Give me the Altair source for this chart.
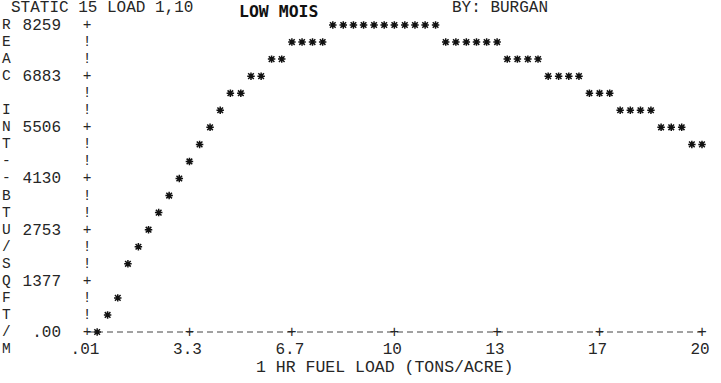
import altair as alt
import pandas as pd

# ---- data ----
loads = [0.34, 0.68, 1.01, 1.34, 1.68, 2.01, 2.34, 2.68, 3.01, 3.34,
         3.67, 4.01, 4.34, 4.67, 5.01, 5.34, 5.67, 6.01, 6.34, 6.67,
         7.00, 7.34, 7.67, 8.00, 8.34, 8.67, 9.00, 9.34, 9.67, 10.00,
         10.34, 10.67, 11.00, 11.34, 11.67, 12.00, 12.34, 12.67, 13.00, 13.34,
         13.67, 14.00, 14.34, 14.67, 15.00, 15.34, 15.67, 16.00, 16.34, 16.67,
         17.00, 17.34, 17.67, 18.00, 18.34, 18.67, 19.00, 19.34, 19.67, 20.00]
reaction = [0, 459, 918, 1835, 2294, 2753, 3212, 3671, 4130, 4588,
            5047, 5506, 5965, 6424, 6424, 6883, 6883, 7341, 7341, 7800,
            7800, 7800, 7800, 8259, 8259, 8259, 8259, 8259, 8259, 8259,
            8259, 8259, 8259, 8259, 7800, 7800, 7800, 7800, 7800, 7800,
            7341, 7341, 7341, 7341, 6883, 6883, 6883, 6883, 6424, 6424,
            6424, 5965, 5965, 5965, 5965, 5506, 5506, 5506, 5047, 5047]

ytick_vals = [8259, 6883, 5506, 4130, 2753, 1377, 0]
ytick_labels = ["8259", "6883", "5506", "4130", "2753", "1377", ".00"]
row_vals = [8259, 7800, 7341, 6883, 6424, 5965, 5506, 5047, 4588, 4130,
            3671, 3212, 2753, 2294, 1835, 1377, 918, 459, 0]
row_marks = ["+", "!", "!", "+", "!", "!", "+", "!", "!", "+",
             "!", "!", "+", "!", "!", "+", "!", "!", "+"]
side_letters = list("REAC INT--BTU/SQFT/M")
side_vals = row_vals + [-459]
xtick_vals = [0.01, 3.34, 6.67, 10.0, 13.34, 16.67, 20.0]
xtick_labels = [".01", "3.3", "6.7", "10", "13", "17", "20"]

MONO = "Liberation Mono"
INK = "#262626"
FS = 16
FS_COL = 14.5

xs = alt.Scale(domain=[0.01, 20], range=[87, 702], nice=False, zero=False)
ys = alt.Scale(domain=[0, 8259], range=[332, 25], nice=False, zero=False)

pts = pd.DataFrame({"load": loads, "ri": reaction})
rows = pd.DataFrame({"v": row_vals, "ch": row_marks, "x0": [xtick_vals[0]] * len(row_vals)})
ylab = pd.DataFrame({"v": ytick_vals, "lab": ytick_labels})
side = pd.DataFrame({"v": side_vals, "ch": side_letters})
xt = pd.DataFrame({"v": xtick_vals, "lab": xtick_labels, "z": [0] * len(xtick_vals)})
xline = pd.DataFrame({"a": [xtick_vals[0]], "b": [xtick_vals[-1]], "z": [0]})

axis_line = alt.Chart(xline).mark_rule(color="#444", strokeWidth=1, strokeDash=[6, 4]).encode(
    x=alt.X("a:Q", scale=xs, axis=None), x2="b:Q",
    y=alt.Y("z:Q", scale=ys, axis=None))

# "+" tick marks along the x axis (the origin "+" is drawn by the y-axis column)
xplus = alt.Chart(xt).transform_filter(alt.datum.v > xtick_vals[0]).mark_text(
    font=MONO, fontSize=FS, color=INK, baseline="middle", text="+").encode(
    x=alt.X("v:Q", scale=xs, axis=None), y=alt.Y("z:Q", scale=ys, axis=None))

xlabels = alt.Chart(xt).mark_text(font=MONO, fontSize=16, color=INK, baseline="middle", dx=-2).encode(
    x=alt.X("v:Q", scale=xs, axis=None), y=alt.value(349), text="lab:N")

ymarks = alt.Chart(rows).mark_text(font=MONO, fontSize=FS_COL, color=INK, baseline="middle").encode(
    x=alt.X("x0:Q", scale=xs, axis=None), y=alt.Y("v:Q", scale=ys, axis=None), text="ch:N")

ylabels = alt.Chart(ylab).mark_text(font=MONO, fontSize=FS, color=INK, baseline="middle", align="right").encode(
    x=alt.value(61), y=alt.Y("v:Q", scale=ys, axis=None), text="lab:N")

sidetxt = alt.Chart(side).mark_text(font=MONO, fontSize=FS_COL, color=INK, baseline="middle", align="left").encode(
    x=alt.value(2), y=alt.Y("v:Q", scale=ys, axis=None), text="ch:N")

star_path = "M-1,0L1,0M0,-1L0,1M-0.75,-0.75L0.75,0.75M-0.75,0.75L0.75,-0.75"
stars = alt.Chart(pts).mark_point(shape=star_path, size=56, filled=False, strokeWidth=1.5, color="#111",
                                  opacity=1).encode(
    x=alt.X("load:Q", scale=xs, axis=None), y=alt.Y("ri:Q", scale=ys, axis=None))

t1 = alt.Chart(pd.DataFrame({"t": ["STATIC 15 LOAD 1,10"]})).mark_text(
    font=MONO, fontSize=16, color=INK, align="left", baseline="middle").encode(
    x=alt.value(11), y=alt.value(6.5), text="t:N")
t2 = alt.Chart(pd.DataFrame({"t": ["LOW MOIS"]})).mark_text(
    font="DejaVu Sans Mono", fontSize=16.5, fontWeight="bold", color="#111", align="left", baseline="middle").encode(
    x=alt.value(239), y=alt.value(12), text="t:N")
t3 = alt.Chart(pd.DataFrame({"t": ["BY: BURGAN"]})).mark_text(
    font=MONO, fontSize=16, color=INK, align="left", baseline="middle").encode(
    x=alt.value(452), y=alt.value(6.5), text="t:N")
t4 = alt.Chart(pd.DataFrame({"t": ["1 HR FUEL LOAD (TONS/ACRE)"]})).mark_text(
    font=MONO, fontSize=16.5, color=INK, align="left", baseline="middle").encode(
    x=alt.value(256), y=alt.value(367), text="t:N")

chart = alt.layer(axis_line, xplus, xlabels, ymarks, ylabels, sidetxt, stars, t1, t2, t3, t4).properties(
    width=721, height=383, padding=0,
    autosize=alt.AutoSizeParams(type="none"),
    background="white",
).configure_view(stroke=None)

chart.save("out.html", embed_options={"renderer": "svg", "actions": False})
